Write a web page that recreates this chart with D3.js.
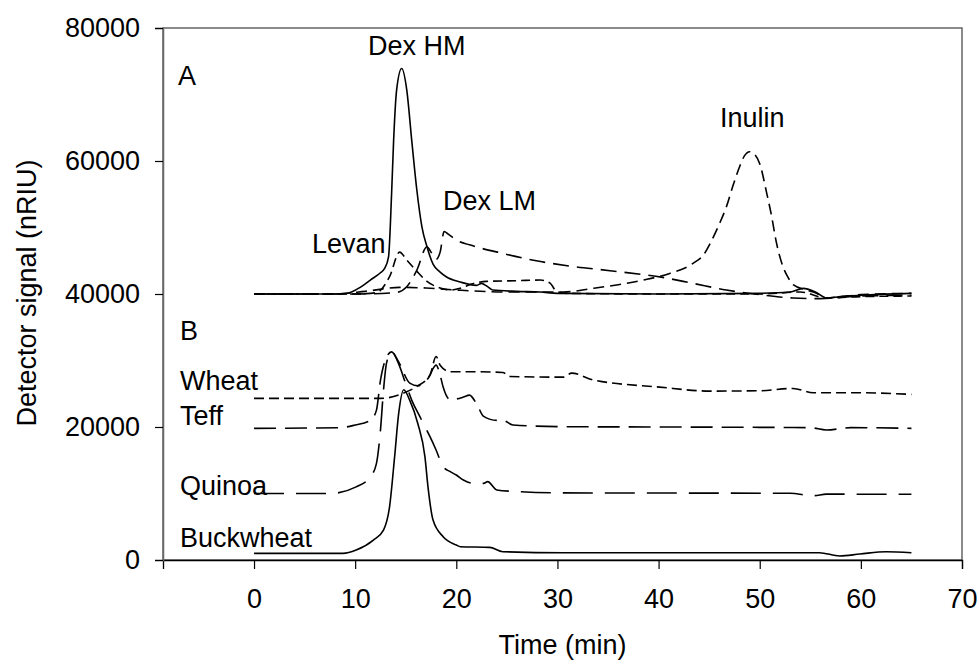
<!DOCTYPE html>
<html>
<head>
<meta charset="utf-8">
<script src="https://cdn.jsdelivr.net/npm/d3@7"></script>
<style>
  html, body { margin: 0; padding: 0; background: #fff; }
  svg { display: block; }
  text { font-family: Arial, "Liberation Sans", Helvetica, sans-serif; fill: #000; }
</style>
</head>
<body>
<svg id="chart" width="979" height="664"></svg>
<script>
// ---------- Data (time in min, signal in nRIU) ----------
const xTicks = [0, 10, 20, 30, 40, 50, 60, 70];
const yTicks = [0, 20000, 40000, 60000, 80000];

// Panel A
const dexHM_t = [0, 8, 9.2, 10.5, 11.5, 12.5, 12.9, 13.3, 13.6, 13.8, 14.1, 14.6, 15.1, 15.6, 16.1, 16.6, 17.1, 17.7, 18.4, 19.0, 20.4, 22.0, 22.5, 23.0, 23.6, 26, 28.3, 30, 40, 50, 53, 54.3, 55.5, 56.6, 58, 60.5, 65];
const dexHM_v = [40000, 40000, 40100, 41000, 42100, 43200, 43800, 45600, 55000, 63000, 70700, 73900, 70700, 63000, 55600, 50100, 47100, 44500, 43300, 42600, 41800, 41300, 41600, 41200, 40600, 40400, 40300, 40100, 40000, 40100, 40300, 40850, 40300, 39400, 39600, 39850, 40100];

const levan_t = [0, 10, 12.1, 13.4, 14.4, 15.1, 16.1, 17.1, 18.4, 19.5, 20.5, 21.5, 23, 26, 28.3, 29.3, 29.9, 31, 40, 50, 54, 56.6, 60, 65];
const levan_v = [40000, 40000, 40200, 42600, 46300, 45100, 43400, 41900, 40900, 40600, 40900, 41500, 41900, 42000, 42100, 41600, 40400, 40100, 40000, 40000, 40300, 39400, 39600, 39700];

const dexLM_t = [0, 10, 14, 15.1, 16.1, 17.1, 17.5, 18.0, 18.4, 18.8, 19.2, 20, 21.3, 24.6, 27.9, 31.2, 35.2, 40.4, 43.4, 46.7, 50, 53.3, 56, 60, 65];
const dexLM_v = [40000, 40000, 40200, 41100, 43600, 47100, 46300, 45200, 46300, 49400, 49000, 48100, 47400, 46100, 45000, 44200, 43500, 42500, 41600, 40600, 39900, 39400, 39300, 39700, 39800];

const inulin_t = [0, 8, 11, 14.4, 17, 20, 25, 30.6, 33.5, 36, 38.5, 41.1, 43.4, 44.5, 45.1, 46, 46.7, 47.4, 48, 48.5, 49, 49.5, 50, 50.7, 51.2, 51.6, 52.3, 52.8, 53.3, 54.6, 55.5, 56.6, 58, 60, 65];
const inulin_v = [40000, 40000, 40400, 41000, 40900, 40600, 40300, 40300, 40850, 41400, 42100, 43100, 44600, 46000, 47600, 50500, 53100, 56500, 59100, 60800, 61400, 61000, 59600, 55100, 51500, 48100, 44100, 42500, 41400, 40600, 40200, 39400, 39600, 39900, 40100];

// Panel B
const wheat_t = [0, 10, 12.5, 14.8, 16.1, 17.4, 18, 18.4, 19.4, 22, 24.6, 25.3, 30.6, 31.4, 33.5, 40.1, 45.1, 50, 53.3, 55.3, 59.9, 65];
const wheat_v = [24300, 24300, 24300, 25100, 26100, 27800, 30600, 29300, 28300, 28300, 28200, 27600, 27500, 28100, 27100, 26000, 25400, 25450, 25800, 25150, 25150, 24900];

const teff_t = [0, 8.5, 10, 11.5, 12.1, 12.5, 13.1, 13.6, 14.3, 15.4, 16.2, 17.2, 18.0, 18.4, 18.7, 19.4, 20.7, 21.3, 22.0, 22.7, 24, 24.6, 25.6, 30.6, 40, 50, 55, 56.6, 59, 65];
const teff_v = [19800, 19900, 20300, 21000, 22500, 27000, 30500, 31300, 29800, 26600, 26200, 27300, 29300, 27800, 26000, 24100, 24500, 24800, 23500, 21600, 21000, 21000, 20300, 20050, 20000, 19950, 19900, 19550, 19900, 19800];

const quinoa_t = [0, 7.5, 10.1, 11.5, 12.1, 12.5, 12.8, 13.1, 13.6, 14.3, 15.0, 15.6, 16.4, 17.4, 18, 18.7, 19.4, 20, 20.7, 21.7, 22.7, 23.1, 24, 26, 30, 53, 55.3, 56.6, 65];
const quinoa_v = [10000, 10000, 11000, 12500, 14500, 19500, 25500, 29600, 31300, 29500, 26500, 24000, 21550, 18540, 16540, 14030, 13280, 12780, 12030, 11530, 11530, 11780, 10530, 10300, 10100, 10030, 9670, 9900, 9880];

const buck_t = [0, 8.8, 10.1, 11.8, 12.8, 13.4, 13.9, 14.3, 14.8, 15.4, 16.2, 16.9, 17.2, 17.7, 18.7, 20, 20.4, 23.3, 24.6, 30.6, 55.9, 57.9, 59.9, 62.5, 65];
const buck_v = [1000, 1000, 1500, 3000, 4500, 8000, 15500, 22000, 25600, 24000, 20500, 15500, 11000, 6000, 3500, 2250, 2000, 1900, 1250, 1100, 1100, 600, 900, 1250, 1100];

const seriesNames = ["Dex HM", "Levan", "Dex LM", "Inulin", "Wheat", "Teff", "Quinoa", "Buckwheat"];

// ---------- Chart ----------
(function () {
const svg = d3.select("#chart");
const mL = 163, mR = 962, mT = 28, mB = 560;
const FS = 27;

const x = d3.scaleLinear().domain([-9, 70]).range([mL, mR]);
const y = d3.scaleLinear().domain([0, 80000]).range([mB, mT]);

// frame
svg.append("rect")
  .attr("x", mL).attr("y", mT)
  .attr("width", mR - mL).attr("height", mB - mT)
  .attr("fill", "none").attr("stroke", "#666").attr("stroke-width", 1.5);

// axes
const xAxis = svg.append("g")
  .attr("transform", `translate(0,${mB})`)
  .call(d3.axisBottom(x).tickValues(xTicks).tickSize(9).tickPadding(20).tickFormat(d3.format("d")));
xAxis.select(".domain").attr("stroke", "#000").attr("stroke-width", 1.3);
xAxis.selectAll(".tick line").attr("stroke", "#000").attr("stroke-width", 1.2);
xAxis.selectAll("text").attr("font-size", FS).attr("font-family", "Arial, 'Liberation Sans', sans-serif").attr("fill", "#000");

const yAxis = svg.append("g")
  .attr("transform", `translate(${mL},0)`)
  .call(d3.axisLeft(y).tickValues(yTicks).tickSize(8).tickPadding(15).tickFormat(d3.format("d")));
yAxis.select(".domain").attr("stroke", "#666").attr("stroke-width", 1.5);
yAxis.selectAll(".tick line").attr("stroke", "#000").attr("stroke-width", 1.2);
yAxis.selectAll("text").attr("font-size", FS).attr("font-family", "Arial, 'Liberation Sans', sans-serif").attr("fill", "#000");

// axis titles
svg.append("text")
  .attr("x", (mL + mR) / 2).attr("y", 654)
  .attr("text-anchor", "middle").attr("font-size", FS)
  .text("Time (min)");
svg.append("text")
  .attr("transform", "translate(36,293) rotate(-90)")
  .attr("text-anchor", "middle").attr("font-size", FS)
  .text("Detector signal (nRIU)");

// lines
const line = d3.line()
  .x(d => x(d[0])).y(d => y(d[1]))
  .curve(d3.curveMonotoneX);

const series = [
  { t: dexHM_t, v: dexHM_v, dash: null },
  { t: levan_t, v: levan_v, dash: "9,5" },
  { t: dexLM_t, v: dexLM_v, dash: "16,8" },
  { t: inulin_t, v: inulin_v, dash: "11,6" },
  { t: wheat_t, v: wheat_v, dash: "10,5" },
  { t: teff_t, v: teff_v, dash: "22,9" },
  { t: quinoa_t, v: quinoa_v, dash: "30,12" },
  { t: buck_t, v: buck_v, dash: null }
];

series.forEach((s, i) => {
  const pts = s.t.map((tt, j) => [tt, s.v[j]]);
  const p = svg.append("path")
    .datum(pts)
    .attr("d", line)
    .attr("fill", "none")
    .attr("stroke", "#000")
    .attr("stroke-width", 1.6)
    .attr("stroke-linejoin", "round")
    .attr("data-name", seriesNames[i]);
  if (s.dash) p.attr("stroke-dasharray", s.dash);
});

// annotations
const labels = [
  { text: "A", x: 178, y: 85 },
  { text: "B", x: 180, y: 340 },
  { text: "Dex HM", x: 368, y: 55 },
  { text: "Levan", x: 312, y: 253 },
  { text: "Dex LM", x: 443, y: 210 },
  { text: "Inulin", x: 720, y: 127 },
  { text: "Wheat", x: 180, y: 390 },
  { text: "Teff", x: 180, y: 425 },
  { text: "Quinoa", x: 180, y: 495 },
  { text: "Buckwheat", x: 180, y: 547 }
];
svg.selectAll("text.lbl")
  .data(labels).enter().append("text")
  .attr("class", "lbl")
  .attr("x", d => d.x).attr("y", d => d.y)
  .attr("font-size", FS)
  .text(d => d.text);
})();
</script>
</body>
</html>
